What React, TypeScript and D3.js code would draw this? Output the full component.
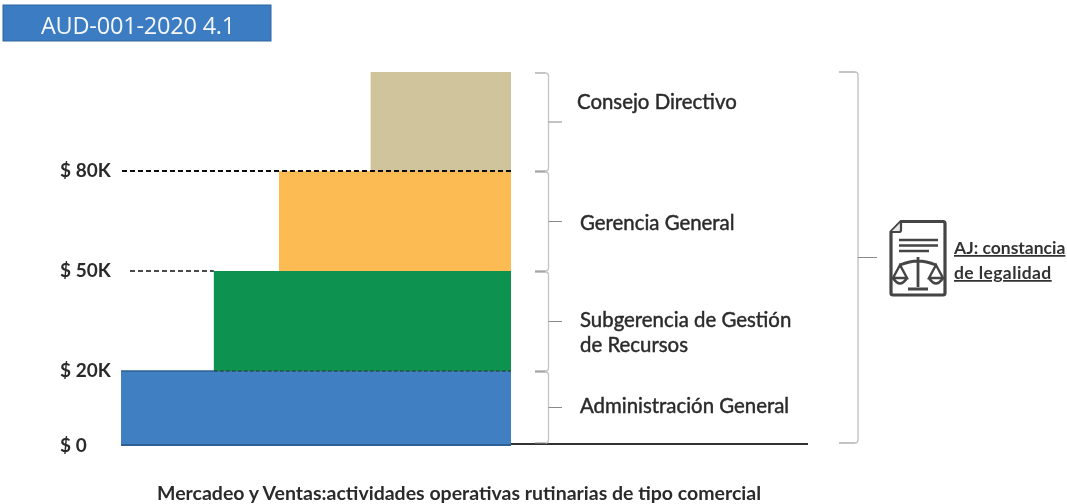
import React from "react";
import * as d3 from "d3";

const W = 1067;
const H = 504;

const levels = ["Administración General", "Subgerencia de Gestión", "Gerencia General", "Consejo Directivo"];
const levelFloors = [0, 20000, 50000, 80000];
const levelCeilings = [20000, 50000, 80000, 110000];
const levelWidths = [100, 76.2, 59.5, 36];
const levelColors = ["#3f7fc2", "#0f9350", "#fdbb52", "#cfc49c"];
const tickValues = [0, 20000, 50000, 80000];
const tickLabels = ["$ 0", "$ 20K", "$ 50K", "$ 80K"];

// the y axis of the picture is not proportional, so the scale is piecewise
const y = d3
  .scaleLinear()
  .domain([0, 20000, 50000, 80000, 110000])
  .range([445, 371, 271, 171, 72]);
const x = d3.scaleLinear().domain([100, 0]).range([121, 511]);

const braceSpine = (spine: number, top: number, bottom: number) => {
  const p = d3.path();
  p.moveTo(spine - 3, top);
  p.quadraticCurveTo(spine, top, spine, top + 3);
  p.lineTo(spine, bottom - 3);
  p.quadraticCurveTo(spine, bottom, spine - 3, bottom);
  return p.toString();
};

const braceTips = (x0: number, spine: number, tip: number, top: number, bottom: number) => {
  const mid = (top + bottom) / 2;
  const p = d3.path();
  p.moveTo(x0, top);
  p.lineTo(spine - 3, top);
  p.moveTo(x0, bottom);
  p.lineTo(spine - 3, bottom);
  p.moveTo(spine, mid);
  p.lineTo(tip, mid);
  return p.toString();
};

const font = "Lato, 'Open Sans', sans-serif";
const ink = "#2b2b2b";

const Icon = () => (
  <g transform="translate(889,220)" fill="none" stroke="#444" strokeWidth={3.2}>
    <path d="M12 1.5 H54 Q56 1.5 56 3.5 V73 Q56 75 54 75 H4 Q2 75 2 73 V12 Z" />
    <path d="M12 2 V10 Q12 12 10 12 H2" fill="#e8e8e8" strokeWidth={2.2} />
    <path d="M10 20 H49 M10 25.5 H49 M10 31 H40" strokeWidth={2.6} />
    <path d="M29 37 V67 M19 69 H39 M11 45 Q21 41 29 41 Q37 41 47 45" strokeWidth={2.8} />
    <path d="M11 45 L4 58 H18 Z M47 45 L40 58 H54 Z" strokeWidth={2.4} />
    <path d="M4 58 Q11 69 18 58 M40 58 Q47 69 54 58" strokeWidth={2.6} />
  </g>
);

export default function App() {
  return (
    <svg
      width={W}
      height={H}
      viewBox={`0 0 ${W} ${H}`}
      style={{ position: "absolute", left: 0, top: 0, background: "#fff" }}
      fontFamily={font}
    >
      <defs>
        <filter id="scan" x="-2%" y="-2%" width="104%" height="104%">
          <feGaussianBlur stdDeviation="0.5" />
        </filter>
      </defs>
      <g filter="url(#scan)">
        <rect x={3} y={5} width={268} height={36} fill="#3a7cc3" stroke="#2f659e" strokeWidth={1} />
        <text x={138} y={33.5} textAnchor="middle" fontSize={23.5} fill="#f4f7fb" fontFamily="'Open Sans', sans-serif" letterSpacing={-0.2}>
          AUD-001-2020 4.1
        </text>

        {levels.map((name, i) => (
          <rect
            key={name}
            x={x(levelWidths[i])}
            y={y(levelCeilings[i])}
            width={x(0) - x(levelWidths[i])}
            height={y(levelFloors[i]) - y(levelCeilings[i])}
            fill={levelColors[i]}
          />
        ))}

        <line x1={122} x2={511} y1={y(80000)} y2={y(80000)} stroke="#111" strokeWidth={1.9} strokeDasharray="5 3" />
        <line x1={130} x2={x(levelWidths[1])} y1={y(50000)} y2={y(50000)} stroke="#111" strokeWidth={1.7} strokeDasharray="5 3" />
        <line x1={x(levelWidths[1])} x2={511} y1={y(20000)} y2={y(20000)} stroke="#24524a" strokeWidth={1.7} strokeDasharray="4 2" />
        <line x1={121} x2={x(levelWidths[1])} y1={y(20000)} y2={y(20000)} stroke="#2f5f95" strokeWidth={1.5} />
        <line x1={121} x2={511} y1={y(0)} y2={y(0)} stroke="#2f5f95" strokeWidth={1.8} />
        <line x1={511} x2={808} y1={y(0) - 1} y2={y(0) - 1} stroke="#333" strokeWidth={2} />

        {tickValues.map((v, i) => (
          <text key={v} x={60} y={y(v) + (v === 0 ? 7 : 5.5)} fontSize={19} fontWeight={700} fill={ink}>
            {tickLabels[i]}
          </text>
        ))}

        {levels.map((name, i) => {
          const top = y(levelCeilings[i]) + 1;
          const bottom = y(levelFloors[i]) - (i === 0 ? 2 : 0);
          return (
            <g key={name} fill="none">
              <path d={braceSpine(548.5, top, bottom)} stroke="#c4c4c4" strokeWidth={1.3} />
              <path d={braceTips(535, 548.5, 562, top, bottom)} stroke="#8a8a8a" strokeWidth={1.2} />
            </g>
          );
        })}
        <g fill="none">
          <path d={braceSpine(858, y(110000), y(0) - 2)} stroke="#c4c4c4" strokeWidth={1.4} />
          <path d={braceTips(839, 858, 877, y(110000), y(0) - 2)} stroke="#8a8a8a" strokeWidth={1.2} />
        </g>

        <g fontSize={20.4} fontWeight={400} fill={ink} stroke={ink} strokeWidth={0.45}>
          <text x={577} y={109}>{levels[3]}</text>
          <text x={580} y={230}>{levels[2]}</text>
          <text x={580} y={327}>{levels[1]}</text>
          <text x={580} y={352}>de Recursos</text>
          <text x={580} y={413}>{levels[0]}</text>
        </g>

        <text x={157} y={500} fontSize={19.5} fontWeight={700} fill={ink}>
          Mercadeo y Ventas:actividades operativas rutinarias de tipo comercial
        </text>

        <Icon />
        <g fontSize={17.5} fontWeight={700} fill="#333" textDecoration="underline">
          <text x={954} y={254}>AJ: constancia</text>
          <text x={954} y={279} letterSpacing={0.4}>de legalidad</text>
        </g>
      </g>
    </svg>
  );
}
